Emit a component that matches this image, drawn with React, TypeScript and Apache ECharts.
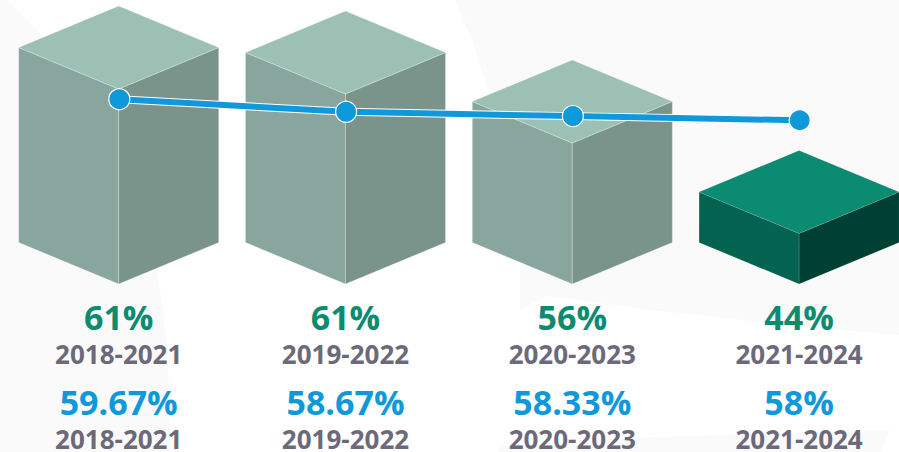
import React, { useEffect, useRef } from "react";
import * as echarts from "echarts";

const periods = ["2018-2021", "2019-2022", "2020-2023", "2021-2024"];
// Cube heights (front edge length)
const cubeHeights = [195, 190, 141, 50.5];
const cubeLabels = ["61%", "61%", "56%", "44%"];
const lineValues = [59.67, 58.67, 58.33, 58];
const lineLabels = ["59.67%", "58.67%", "58.33%", "58%"];
const highlightedIndex = 3;

const PALE = { top: "#9CC0B4", left: "#88A69D", right: "#7A948C", edge: "rgba(255,255,255,0.3)" };
const DARK = { top: "#0B8B72", left: "#046350", right: "#003F33", edge: "rgba(255,255,255,0.12)" };
const GREEN = "#0B8B6F";
const BLUE = "#0F99DA";
const GREY = "#6C6A7A";
const FONT = '"Open Sans", "Noto Sans", sans-serif';
const HALF_W = 100;
const DEPTH = 41.5;

const backdrop: number[][][] = [
  [[0, 0], [7, 0], [40, 33], [80, 90], [120, 175], [145, 235], [157, 270], [163, 310], [168, 360], [170, 452], [0, 452]],
  [[455, 0], [899, 0], [899, 335], [817, 328], [650, 310], [547, 296], [520, 310], [520, 200], [490, 97], [472, 40]],
  [[500, 447], [650, 437], [890, 430], [880, 452], [498, 452]],
];

function renderCube(params: any, api: any) {
  const i = api.value(0);
  const [cx, bottom] = api.coord([i, 0]);
  const [, front] = api.coord([i, api.value(1)]);
  const c = i === highlightedIndex ? DARK : PALE;
  const face = (points: number[][], fill: string) => ({
    type: "polygon",
    shape: { points },
    style: { fill, stroke: c.edge, lineWidth: 0.8 },
  });
  return {
    type: "group",
    children: [
      face([[cx - HALF_W, front - DEPTH], [cx, front], [cx, bottom], [cx - HALF_W, bottom - DEPTH]], c.left),
      face([[cx + HALF_W, front - DEPTH], [cx, front], [cx, bottom], [cx + HALF_W, bottom - DEPTH]], c.right),
      face([[cx, front - 2 * DEPTH], [cx + HALF_W, front - DEPTH], [cx, front], [cx - HALF_W, front - DEPTH]], c.top),
    ],
  };
}

function renderLabels(params: any, api: any) {
  const i = api.value(0);
  const [cx] = api.coord([i, 0]);
  const t = (text: string, y: number, fill: string, size: number, weight: number) => ({
    type: "text",
    style: { text, x: cx, y, fill, fontSize: size, fontWeight: weight, fontFamily: FONT, align: "center", verticalAlign: "middle" },
  });
  return {
    type: "group",
    children: [
      t(cubeLabels[i], 316.5, GREEN, 34, 700),
      t(periods[i], 354, GREY, 26, 700),
      t(lineLabels[i], 401.5, BLUE, 34, 700),
      t(periods[i], 438.5, GREY, 26, 700),
    ],
  };
}

export default function App() {
  const ref = useRef<HTMLDivElement>(null);
  useEffect(() => {
    document.body.style.margin = "0";
    document.body.style.background = "#ffffff";
    const chart = echarts.init(ref.current!, null, { renderer: "svg" });
    const hiddenX = (gridIndex: number) => ({
      type: "category" as const,
      gridIndex,
      data: periods,
      boundaryGap: true,
      show: false,
    });
    chart.setOption({
      animation: false,
      backgroundColor: "#ffffff",
      grid: [
        { left: 5.3, top: 0, width: 907.2, height: 284, outerBoundsMode: "none" },
        { left: 5.9, top: 0, width: 907.2, height: 284, outerBoundsMode: "none" },
      ],
      xAxis: [hiddenX(0), hiddenX(1)],
      yAxis: [
        { type: "value", gridIndex: 0, min: 0, max: 284, show: false },
        { type: "value", gridIndex: 1, min: 45.03, max: 67.53, show: false },
      ],
      graphic: backdrop.map((points) => ({
        type: "polygon",
        z: -10,
        silent: true,
        shape: { points, smooth: 0 },
        style: { fill: "#FAFAFA" },
      })),
      series: [
        {
          type: "custom",
          name: "cubes",
          xAxisIndex: 0,
          yAxisIndex: 0,
          z: 2,
          clip: false,
          silent: true,
          renderItem: renderCube,
          encode: { x: 0, y: 1 },
          data: cubeHeights.map((h, i) => [i, h]),
        },
        {
          type: "line",
          name: "halo",
          xAxisIndex: 1,
          yAxisIndex: 1,
          z: 3,
          silent: true,
          symbol: "none",
          lineStyle: { color: "#ffffff", width: 8 },
          data: lineValues,
        },
        {
          type: "line",
          name: "average",
          xAxisIndex: 1,
          yAxisIndex: 1,
          z: 4,
          silent: true,
          symbol: "circle",
          symbolSize: 21,
          showSymbol: true,
          lineStyle: { color: BLUE, width: 6 },
          itemStyle: { color: BLUE, borderColor: "#ffffff", borderWidth: 1.2 },
          data: lineValues,
        },
        {
          type: "custom",
          name: "labels",
          xAxisIndex: 0,
          yAxisIndex: 0,
          z: 5,
          clip: false,
          silent: true,
          renderItem: renderLabels,
          data: periods.map((_, i) => [i, 0]),
        },
      ],
    });
    return () => chart.dispose();
  }, []);
  return <div ref={ref} style={{ width: 899, height: 452 }} />;
}
